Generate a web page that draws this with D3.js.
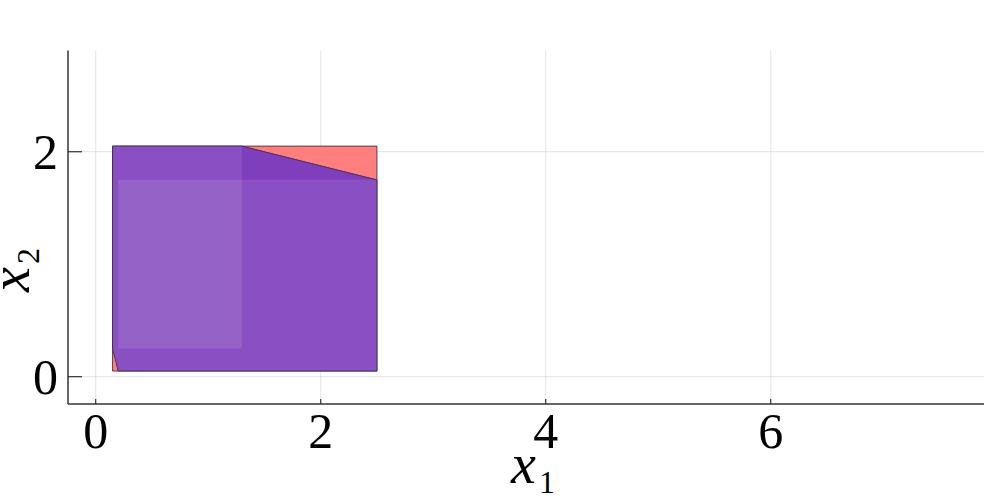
<!DOCTYPE html>
<html>
<head>
<meta charset="utf-8">
<script src="https://cdn.jsdelivr.net/npm/d3@7"></script>
<style>
  html, body { margin: 0; padding: 0; background: #fff; }
  svg { display: block; }
</style>
</head>
<body>
<svg id="chart" width="1000" height="500"></svg>
<script>
// ---- data ----
const xTicks = [0, 2, 4, 6];
const yTicks = [0, 2];
const xDomain = [-0.246, 7.896];
const yDomain = [-0.243, 2.9];

// outer box (red)
const boxX = [0.15, 2.5, 2.5, 0.15];
const boxY = [2.05, 2.05, 0.05, 0.05];

// hull polygon (purple)
const hullX = [0.15, 1.3, 2.5, 2.5, 0.2, 0.15];
const hullY = [2.05, 2.05, 1.75, 0.05, 0.05, 0.25];

// darker overlap region
const darkX = [1.3, 2.5, 1.3];
const darkY = [2.05, 1.75, 1.75];

// lighter inner box
const lightX = [0.2, 1.3, 1.3, 0.2];
const lightY = [1.75, 1.75, 0.25, 0.25];

(function () {
  const FONT = "'Liberation Serif', 'Times New Roman', Times, 'DejaVu Serif', serif";
  const svg = d3.select("#chart").attr("font-family", FONT);
  const pL = 68, pR = 984, pT = 50.5, pB = 404;
  const x = d3.scaleLinear().domain(xDomain).range([pL, pR]);
  const y = d3.scaleLinear().domain(yDomain).range([pB, pT]);

  const pts = (xs, ys) => xs.map((v, i) => [x(v), y(ys[i])]);
  const line = d3.line().curve(d3.curveLinearClosed);

  // grid
  const grid = svg.append("g");
  grid.selectAll(".gx").data(xTicks).join("line")
    .attr("x1", d => x(d)).attr("x2", d => x(d))
    .attr("y1", pT).attr("y2", pB)
    .attr("stroke", "#000").attr("stroke-opacity", 0.09).attr("stroke-width", 1.2);
  grid.selectAll(".gy").data(yTicks).join("line")
    .attr("y1", d => y(d)).attr("y2", d => y(d))
    .attr("x1", pL).attr("x2", pR)
    .attr("stroke", "#000").attr("stroke-opacity", 0.09).attr("stroke-width", 1.2);

  // shapes
  const shapes = svg.append("g");
  shapes.append("path").attr("d", line(pts(boxX, boxY)))
    .attr("fill", "#ff7f7f").attr("stroke", "#3a2a3a").attr("stroke-width", 1).attr("stroke-opacity", 0.85);
  shapes.append("path").attr("d", line(pts(hullX, hullY)))
    .attr("fill", "#8a50c3");
  shapes.append("path").attr("d", line(pts(darkX, darkY)))
    .attr("fill", "#7f3fbd");
  shapes.append("path").attr("d", line(pts(lightX, lightY)))
    .attr("fill", "#9562c8");
  shapes.append("path").attr("d", line(pts(hullX, hullY)))
    .attr("fill", "none").attr("stroke", "#3a2a4a").attr("stroke-width", 1).attr("stroke-opacity", 0.85);

  // axes
  const axes = svg.append("g");
  axes.append("line").attr("x1", pL).attr("x2", pL).attr("y1", pT).attr("y2", pB)
    .attr("stroke", "#333").attr("stroke-width", 1.5);
  axes.append("line").attr("x1", pL).attr("x2", pR).attr("y1", pB).attr("y2", pB)
    .attr("stroke", "#333").attr("stroke-width", 1.5);

  // ticks
  axes.selectAll(".tx").data(xTicks).join("line")
    .attr("x1", d => x(d)).attr("x2", d => x(d))
    .attr("y1", pB).attr("y2", pB - 5)
    .attr("stroke", "#333").attr("stroke-width", 1.2);
  axes.selectAll(".ty").data(yTicks).join("line")
    .attr("y1", d => y(d)).attr("y2", d => y(d))
    .attr("x1", pL).attr("x2", pL + 14)
    .attr("stroke", "#333").attr("stroke-width", 1.2);

  // tick labels
  axes.selectAll(".lx").data(xTicks).join("text")
    .attr("font-family", FONT)
    .attr("x", d => x(d)).attr("y", 448)
    .attr("text-anchor", "middle").attr("font-size", 50)
    .text(d => d);
  axes.selectAll(".ly").data(yTicks).join("text")
    .attr("font-family", FONT)
    .attr("x", 58).attr("y", d => y(d) + 17)
    .attr("text-anchor", "end").attr("font-size", 50)
    .text(d => d);

  // axis labels
  const xl = svg.append("text").attr("font-family", FONT)
    .attr("transform", "translate(533,483)")
    .attr("text-anchor", "middle");
  xl.append("tspan").attr("font-style", "italic").attr("font-size", 56).text("x");
  xl.append("tspan").attr("font-size", 32).attr("dx", 3).attr("dy", 10).text("1");

  const yl = svg.append("text").attr("font-family", FONT)
    .attr("transform", "translate(29,270) rotate(-90)")
    .attr("text-anchor", "middle");
  yl.append("tspan").attr("font-style", "italic").attr("font-size", 56).text("x");
  yl.append("tspan").attr("font-size", 32).attr("dx", 3).attr("dy", 10).text("2");
})();
</script>
</body>
</html>
